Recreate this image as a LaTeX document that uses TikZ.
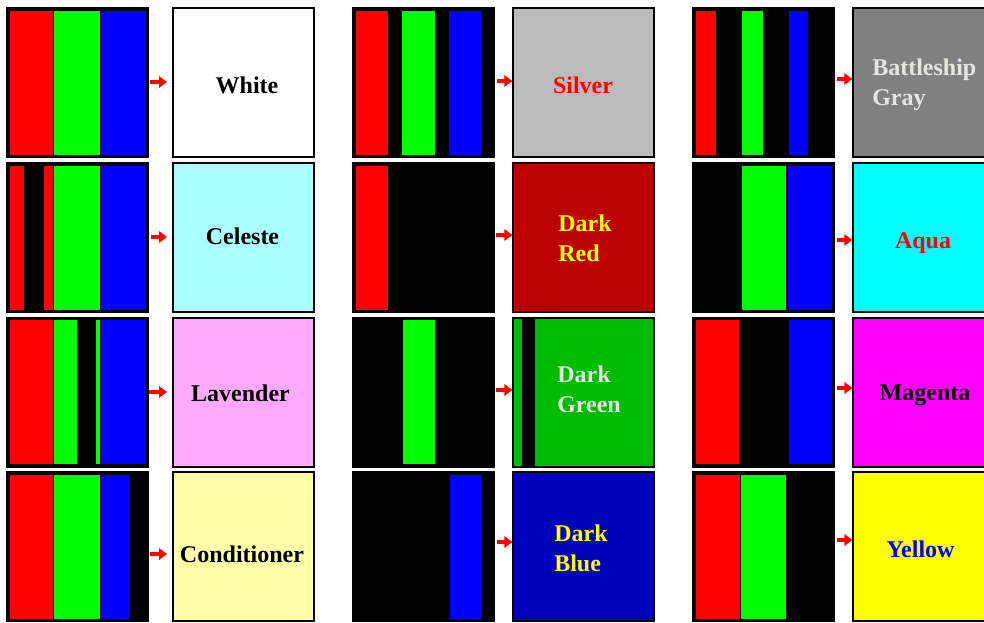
\documentclass[tikz,border=0pt]{standalone}
\usepackage{fontspec}
\setmainfont{Liberation Serif}
\usetikzlibrary{arrows.meta}
\definecolor{silverc}{HTML}{BBBBBB}
\definecolor{bgrayc}{HTML}{808080}
\definecolor{celestec}{HTML}{AAFFFF}
\definecolor{dredc}{HTML}{BB0000}
\definecolor{aquac}{HTML}{00FFFF}
\definecolor{lavc}{HTML}{FFAAFF}
\definecolor{dgreenc}{HTML}{00BB00}
\definecolor{magc}{HTML}{FF00FF}
\definecolor{condc}{HTML}{FFFFAA}
\definecolor{dbluec}{HTML}{0000BB}
\definecolor{yelc}{HTML}{FFFF00}
\definecolor{pred}{HTML}{FF0000}
\definecolor{pgreen}{HTML}{00FF00}
\definecolor{pblue}{HTML}{0000FF}
\definecolor{lgtext}{HTML}{E6E6E0}
\newcommand\mystripe[3]{\filldraw[fill=#3,draw=black,line width=0.75pt] (#1,2) rectangle (#2,147);}
\begin{document}
\begin{tikzpicture}[x=0.75pt,y=-0.75pt,
  sbox/.style={draw=black,fill=black,line width=1.5pt,minimum width=105.75pt,minimum height=111.75pt,inner sep=0pt,outer sep=0pt},
  rbox/.style={draw=black,line width=1.5pt,minimum width=105.75pt,minimum height=111.75pt,inner sep=0pt,outer sep=0pt},
  lbl/.style={inner sep=0pt,font=\bfseries\fontsize{18}{22.5}\selectfont,anchor=base},
  lbl2/.style={inner sep=0pt,font=\bfseries\fontsize{18}{22.5}\selectfont,anchor=west,align=left},
  arr/.style={draw=pred,line width=3.2pt,-{Triangle[length=6pt,width=8.5pt]}}
]
\useasboundingbox (0,0) rectangle (984,622);
\fill[white] (0,0) rectangle (984,622);
\clip (0,0) rectangle (984,622);

% ---------- stripe boxes ----------
\node[sbox] (s11) at (77.5,82.5) {};
\node[sbox] (s21) at (77.5,237.5) {};
\node[sbox] (s31) at (77.5,392) {};
\node[sbox] (s41) at (77.5,546.5) {};
\node[sbox] (s12) at (423.5,82.5) {};
\node[sbox] (s22) at (423.5,237.5) {};
\node[sbox] (s32) at (423.5,392) {};
\node[sbox] (s42) at (423.5,546.5) {};
\node[sbox] (s13) at (763.5,82.5) {};
\node[sbox] (s23) at (763.5,237.5) {};
\node[sbox] (s33) at (763.5,392) {};
\node[sbox] (s43) at (763.5,546.5) {};

% column 1 stripes
\begin{scope}[shift={(s11.north west)}]
\mystripe{2}{46}{pred}\mystripe{46}{93}{pgreen}\mystripe{93}{139}{pblue}
\end{scope}
\begin{scope}[shift={(s21.north west)}]
\mystripe{2}{17}{pred}\mystripe{36}{46}{pred}\mystripe{46}{93}{pgreen}\mystripe{93}{139}{pblue}
\end{scope}
\begin{scope}[shift={(s31.north west)}]
\mystripe{2}{46}{pred}\mystripe{46}{70}{pgreen}\mystripe{88}{93}{pgreen}\mystripe{93}{139}{pblue}
\end{scope}
\begin{scope}[shift={(s41.north west)}]
\mystripe{2}{46}{pred}\mystripe{46}{93}{pgreen}\mystripe{93}{122}{pblue}
\end{scope}
% column 2 stripes
\begin{scope}[shift={(s12.north west)}]
\mystripe{2}{35}{pred}\mystripe{48}{82}{pgreen}\mystripe{95}{128}{pblue}
\end{scope}
\begin{scope}[shift={(s22.north west)}]
\mystripe{2}{35}{pred}
\end{scope}
\begin{scope}[shift={(s32.north west)}]
\mystripe{49}{82}{pgreen}
\end{scope}
\begin{scope}[shift={(s42.north west)}]
\mystripe{96}{128}{pblue}
\end{scope}
% column 3 stripes
\begin{scope}[shift={(s13.north west)}]
\mystripe{2}{23}{pred}\mystripe{48}{70}{pgreen}\mystripe{95}{115}{pblue}
\end{scope}
\begin{scope}[shift={(s23.north west)}]
\mystripe{48}{93}{pgreen}\mystripe{94}{139}{pblue}
\end{scope}
\begin{scope}[shift={(s33.north west)}]
\mystripe{2}{46}{pred}\mystripe{95}{139}{pblue}
\end{scope}
\begin{scope}[shift={(s43.north west)}]
\mystripe{2}{47}{pred}\mystripe{47}{93}{pgreen}
\end{scope}

% ---------- result boxes ----------
\node[rbox,fill=white]   (r11) at (243.5,82.5) {};
\node[rbox,fill=celestec](r21) at (243.5,237.5) {};
\node[rbox,fill=lavc]    (r31) at (243.5,392) {};
\node[rbox,fill=condc]   (r41) at (243.5,546.5) {};
\node[rbox,fill=silverc] (r12) at (583.5,82.5) {};
\node[rbox,fill=dredc]   (r22) at (583.5,237.5) {};
\node[rbox,fill=dgreenc] (r32) at (583.5,392) {};
\node[rbox,fill=dbluec]  (r42) at (583.5,546.5) {};
\node[rbox,fill=bgrayc]  (r13) at (923.5,82.5) {};
\node[rbox,fill=aquac]   (r23) at (923.5,237.5) {};
\node[rbox,fill=magc]    (r33) at (923.5,392) {};
\node[rbox,fill=yelc]    (r43) at (923.5,546.5) {};
\fill[black] (522,318) rectangle (535,468);

% ---------- labels ----------
\node[lbl] (t11) at (247,93) {White};
\node[lbl] (t21) at (242.5,244) {Celeste};
\node[lbl] (t31) at (240.5,401) {Lavender};
\node[lbl] (t41) at (242,562) {Conditioner};
\node[lbl,text=pred] (t12) at (583,93) {Silver};
\node[lbl2,text=yelc] (t22) at (558,238) {Dark\\Red};
\node[lbl2,text=lgtext] (t32) at (557,389.5) {Dark\\Green};
\node[lbl2,text=yelc] (t42) at (554,548) {Dark\\Blue};
\node[lbl2,text=lgtext] (t13) at (872,84.5) {Battleship\\Gray};
\node[lbl,text=pred] (t23) at (923,248) {Aqua};
\node[lbl] (t33) at (925,400) {Magenta};
\node[lbl,text=pblue] (t43) at (920.5,557) {Yellow};

% ---------- arrows ----------
\coordinate (a11) at (150,82);
\coordinate (a21) at (151,237);
\coordinate (a31) at (149,392);
\coordinate (a41) at (150,554);
\coordinate (a12) at (497,81);
\coordinate (a22) at (496,235);
\coordinate (a32) at (496,390);
\coordinate (a42) at (497,542);
\coordinate (a13) at (837,79);
\coordinate (a23) at (837,240);
\coordinate (a33) at (837,388);
\coordinate (a43) at (837,540);
\foreach \r in {1,2,3,4}{
  \draw[arr,shorten >=4.5pt] (a\r1) -- (a\r1 -| r\r1.west);
  \draw[arr,shorten >=0.5pt] (a\r2) -- (a\r2 -| r\r2.west);
  \draw[arr,shorten >=0.5pt] (a\r3) -- (a\r3 -| r\r3.west);
}
\end{tikzpicture}
\end{document}
